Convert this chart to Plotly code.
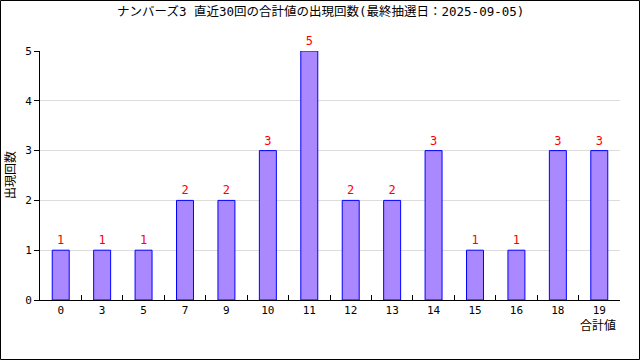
import plotly.graph_objects as go

categories = ["0", "3", "5", "7", "9", "10", "11", "12", "13", "14", "15", "16", "18", "19"]
counts = [1, 1, 1, 2, 2, 3, 5, 2, 2, 3, 1, 1, 3, 3]

title_text = "ナンバーズ3 直近30回の合計値の出現回数(最終抽選日：2025-09-05)"
font_family = "DejaVu Sans Mono, Noto Sans CJK JP"

L, R, T, B = 40, 20, 51, 60
W, H = 640, 360
pw, ph = W - L - R, H - T - B


def px_x(px):
    return (px - L) / pw


def px_y(py):
    return (T + ph - py) / ph


fig = go.Figure(go.Bar(
    x=categories, y=counts,
    marker=dict(color="#aa88ff", line=dict(color="#0000ff", width=1)),
    text=[str(c) for c in counts], textposition="outside",
    textfont=dict(color="#ff0000", size=12, family=font_family),
    cliponaxis=False, width=0.41,
))

fig.update_layout(
    width=W, height=H,
    margin=dict(l=L, r=R, t=T, b=B, autoexpand=False),
    paper_bgcolor="white", plot_bgcolor="white",
    font=dict(family=font_family, size=11, color="black"),
    showlegend=False,
    xaxis=dict(type="category", showline=True, linecolor="black", linewidth=1,
               ticks="inside", tickson="boundaries", ticklen=5, tickcolor="black",
               showgrid=False, tickfont=dict(size=11), fixedrange=True, automargin=False),
    yaxis=dict(range=[0, 5], showline=True, linecolor="black", linewidth=1,
               ticks="outside", ticklen=5, tickcolor="black", dtick=1,
               showgrid=True, gridcolor="#dcdcdc", zeroline=False,
               tickfont=dict(size=11), automargin=False),
    annotations=[
        dict(text=title_text, xref="paper", yref="paper", x=px_x(320), y=px_y(11),
             xanchor="center", yanchor="middle", showarrow=False,
             font=dict(size=12.5, family=font_family)),
        dict(text="出現回数", xref="paper", yref="paper", x=px_x(10), y=px_y(175),
             xanchor="center", yanchor="middle", showarrow=False, textangle=-90,
             font=dict(size=12, family=font_family)),
        dict(text="合計値", xref="paper", yref="paper", x=px_x(598), y=px_y(325),
             xanchor="center", yanchor="middle", showarrow=False,
             font=dict(size=12, family=font_family)),
    ],
    shapes=[dict(type="rect", xref="paper", yref="paper",
                 x0=px_x(0.5), x1=px_x(W - 0.5),
                 y0=px_y(H - 0.5), y1=px_y(0.5),
                 line=dict(color="black", width=1), fillcolor="rgba(0,0,0,0)")],
)

fig.write_html("out.html", config={"displayModeBar": False},
               post_script="document.body.style.margin='0';document.body.style.padding='0';")
